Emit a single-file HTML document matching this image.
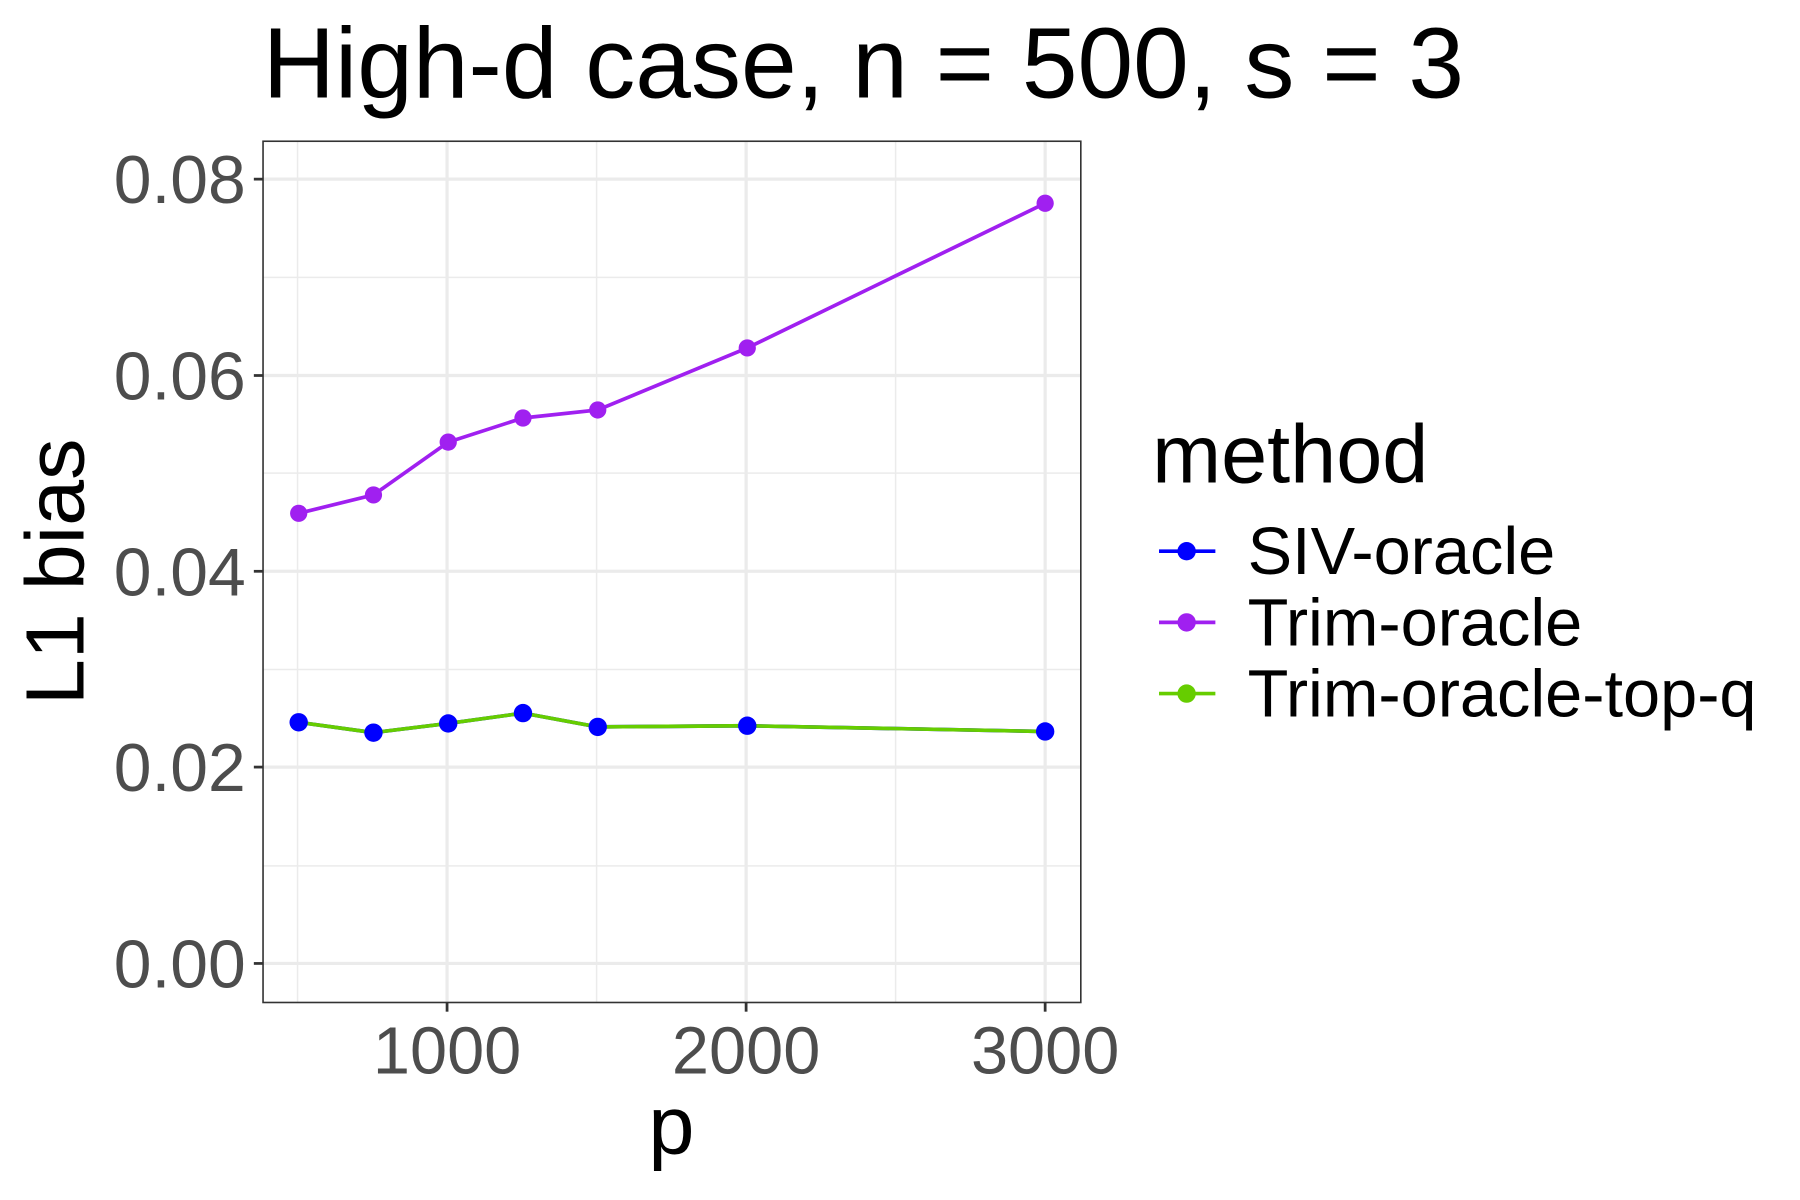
<!DOCTYPE html>
<html><head><meta charset="utf-8"><style>html,body{margin:0;padding:0;background:#fff}svg{display:block}</style></head>
<body>
<svg width="1800" height="1200" viewBox="1.3 0 1565 1045" preserveAspectRatio="none" xmlns="http://www.w3.org/2000/svg" font-family="'Liberation Sans', sans-serif">
<rect x="0" y="0" width="1570" height="1045" fill="#fff"/>
<g stroke="#ebebeb" stroke-width="1.3">
<line x1="230" x2="941" y1="241.5" y2="241.5"/><line x1="230" x2="941" y1="412" y2="412"/>
<line x1="230" x2="941" y1="583" y2="583"/><line x1="230" x2="941" y1="754" y2="754"/>
<line x1="260" x2="260" y1="123" y2="873"/><line x1="520" x2="520" y1="123" y2="873"/><line x1="780" x2="780" y1="123" y2="873"/>
</g>
<g stroke="#ebebeb" stroke-width="2.8">
<line x1="230" x2="941" y1="156" y2="156"/><line x1="230" x2="941" y1="327" y2="327"/>
<line x1="230" x2="941" y1="497.5" y2="497.5"/><line x1="230" x2="941" y1="668" y2="668"/>
<line x1="230" x2="941" y1="839" y2="839"/>
<line x1="390" x2="390" y1="123" y2="873"/><line x1="650" x2="650" y1="123" y2="873"/><line x1="910" x2="910" y1="123" y2="873"/>
</g>
<rect x="230" y="123" width="711" height="750" fill="none" stroke="#333" stroke-width="1.4"/>
<g stroke="#333" stroke-width="2.4">
<line x1="222" x2="230" y1="156" y2="156"/><line x1="222" x2="230" y1="327" y2="327"/><line x1="222" x2="230" y1="497.5" y2="497.5"/><line x1="222" x2="230" y1="668" y2="668"/><line x1="222" x2="230" y1="839" y2="839"/>
<line x1="390" x2="390" y1="873" y2="881"/><line x1="650" x2="650" y1="873" y2="881"/><line x1="910" x2="910" y1="873" y2="881"/>
</g>
<g fill="#4d4d4d" font-size="59" text-anchor="end">
<text x="215" y="177">0.08</text><text x="215" y="348">0.06</text><text x="215" y="518.5">0.04</text><text x="215" y="689">0.02</text><text x="215" y="860">0.00</text>
</g>
<g fill="#4d4d4d" font-size="58" text-anchor="middle">
<text x="390" y="935">1000</text><text x="650" y="935">2000</text><text x="910" y="935">3000</text>
</g>
<text x="585" y="1005" font-size="72" text-anchor="middle">p</text>
<text transform="translate(74,498) rotate(-90)" font-size="72" text-anchor="middle">L1 bias</text>
<text x="752" y="85" font-size="87" text-anchor="middle">High-d case, n = 500, s = 3</text>
<polyline fill="none" stroke="#a020f0" stroke-width="3.2" points="261,447 326,431 391,385 456,364 521,357 651,303 910,177"/>
<g fill="#a020f0"><circle cx="261" cy="447" r="7.5"/><circle cx="326" cy="431" r="7.5"/><circle cx="391" cy="385" r="7.5"/><circle cx="456" cy="364" r="7.5"/><circle cx="521" cy="357" r="7.5"/><circle cx="651" cy="303" r="7.5"/><circle cx="910" cy="177" r="7.5"/></g>
<polyline fill="none" stroke="#0000ff" stroke-width="3.2" points="261,629 326,638 391,630 456,621 521,633 651,632 910,637"/>
<polyline fill="none" stroke="#66cd00" stroke-width="3.2" points="261,629 326,638 391,630 456,621 521,633 651,632 910,637"/>
<g fill="#0000ff"><circle cx="261" cy="629" r="8"/><circle cx="326" cy="638" r="8"/><circle cx="391" cy="630" r="8"/><circle cx="456" cy="621" r="8"/><circle cx="521" cy="633" r="8"/><circle cx="651" cy="632" r="8"/><circle cx="910" cy="637" r="8"/></g>
<text x="1003" y="420" font-size="72">method</text>
<g stroke-width="3.2">
<line x1="1009" x2="1058" y1="480" y2="480" stroke="#0000ff"/><line x1="1009" x2="1058" y1="542" y2="542" stroke="#a020f0"/><line x1="1009" x2="1058" y1="604" y2="604" stroke="#66cd00"/>
</g>
<circle cx="1033" cy="480" r="8" fill="#0000ff"/><circle cx="1033" cy="542" r="8" fill="#a020f0"/><circle cx="1033" cy="604" r="8" fill="#66cd00"/>
<g font-size="58"><text x="1086" y="500">SIV-oracle</text><text x="1086" y="562">Trim-oracle</text><text x="1086" y="624">Trim-oracle-top-q</text></g>
</svg>
</body></html>
